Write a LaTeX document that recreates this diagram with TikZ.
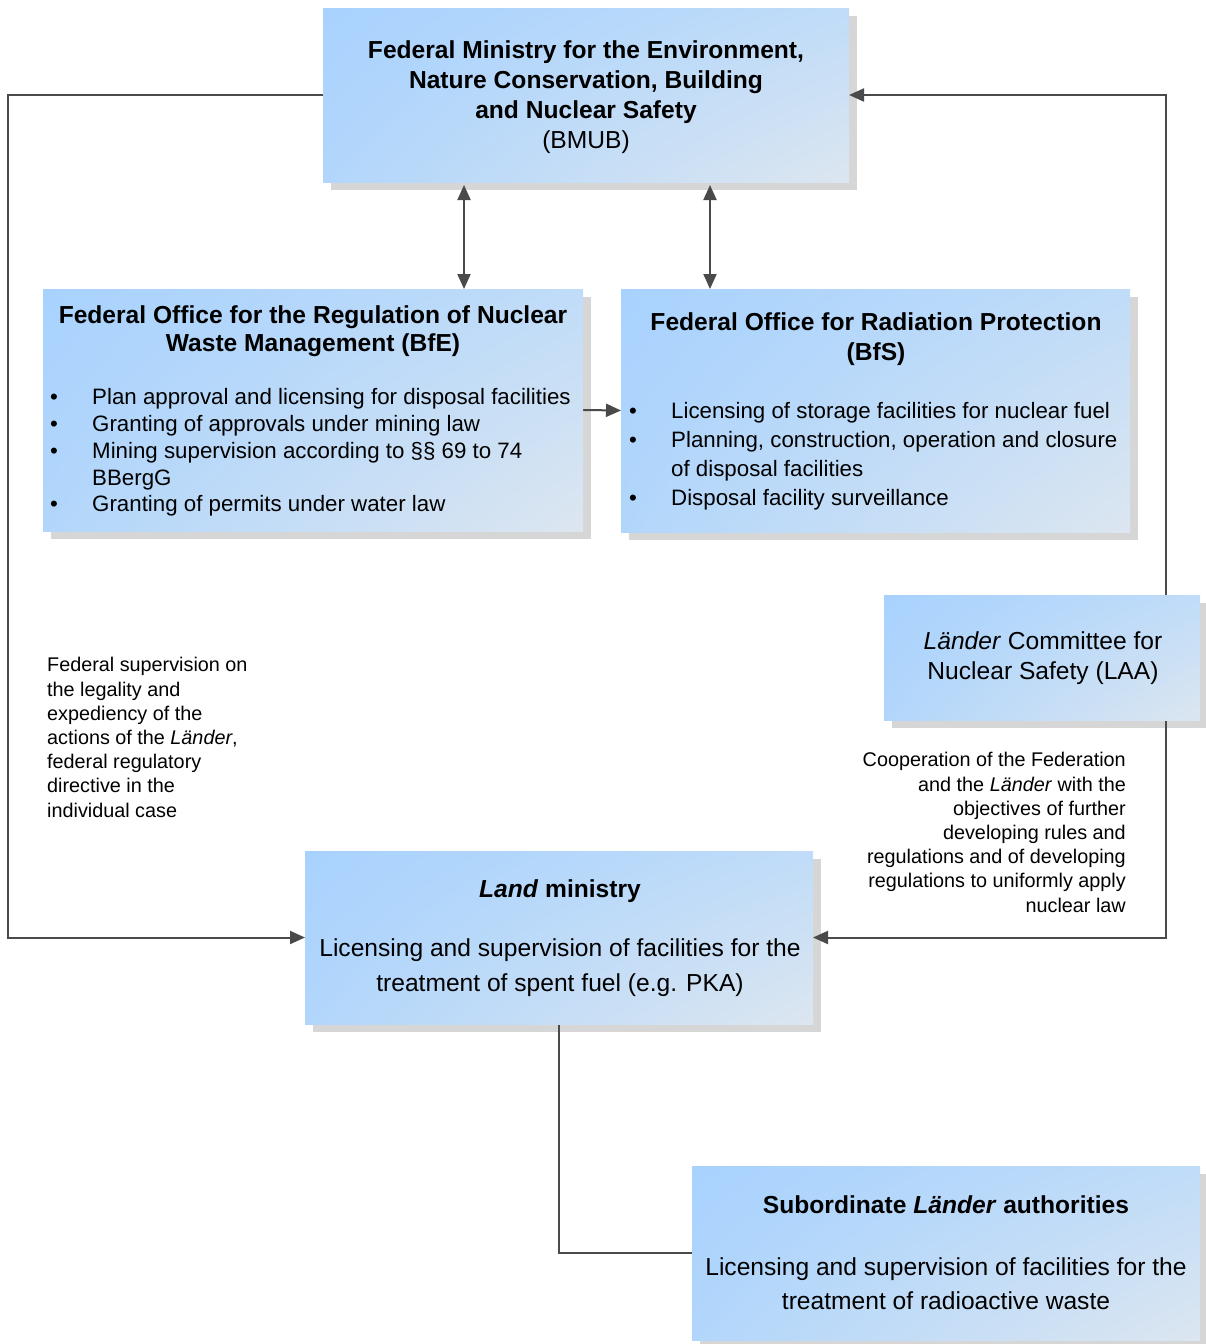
\documentclass[tikz,border=0pt]{standalone}
\usepackage{fontspec}
\setmainfont{Liberation Sans}
\usetikzlibrary{arrows.meta,shadings}
\pgfdeclarelayer{shadowlayer}
\pgfdeclarelayer{linelayer}
\pgfsetlayers{shadowlayer,linelayer,main}
\definecolor{gUL}{HTML}{A8D2FE}
\definecolor{gUR}{HTML}{C0DCF8}
\definecolor{gLL}{HTML}{B2D6FB}
\definecolor{gLR}{HTML}{DCE6F0}
\definecolor{shadowc}{HTML}{D6D6D6}
\definecolor{linec}{HTML}{4A4A4A}
\newcommand\bul{\makebox[42pt][l]{\textbullet}}
\newcommand\ind{\hspace*{42pt}}
\tikzset{
  box/.style={rectangle, inner sep=0pt, outer sep=0pt, anchor=north west,
    upper left=gUL, upper right=gUR, lower left=gLL, lower right=gLR},
  conn/.style={draw=linec, line width=2pt},
  tip/.tip={Triangle[length=15pt,width=13pt]},
  big/.style={inner sep=0pt, align=center, font=\fontsize{24.6}{30}\selectfont},
  lst/.style={inner sep=0pt, align=left, anchor=west},
  lbl/.style={inner sep=0pt, font=\fontsize{19.8}{24.2}\selectfont},
}
\begin{document}
\begin{tikzpicture}[x=1pt,y=-1pt]
\useasboundingbox (0,0) rectangle (1206,1344);
% boxes
\node[box, minimum width=526pt, minimum height=174pt] (bmub) at (323,8) {};
\node[box, minimum width=540pt, minimum height=242pt] (bfe) at (43,289) {};
\node[box, minimum width=509pt, minimum height=243pt] (bfs) at (621,289) {};
\node[box, minimum width=316pt, minimum height=125pt] (laa) at (884,595) {};
\node[box, minimum width=508pt, minimum height=173pt] (land) at (305,851) {};
\node[box, minimum width=508pt, minimum height=174pt] (sub) at (692,1166) {};
% shadows
\begin{pgfonlayer}{shadowlayer}
\foreach \n in {bmub,bfe,bfs,laa,land,sub}
  \fill[shadowc] ([shift={(8,8)}]\n.north west) rectangle ([shift={(8,8)}]\n.south east);
\end{pgfonlayer}
% texts
\node[big] (bmubT) at (586,97) {\textbf{Federal Ministry for the Environment,}\\\textbf{Nature Conservation, Building}\\\textbf{and Nuclear Safety}\\(BMUB)};
\node[big, font=\fontsize{24.6}{28}\selectfont\bfseries] (bfeT) at (313,331.5) {Federal Office for the Regulation of Nuclear\\Waste Management (BfE)};
\node[lst, font=\fontsize{22.3}{26.75}\selectfont] (bfeL) at (50,452.7) {\bul Plan approval and licensing for disposal facilities\\\bul Granting of approvals under mining law\\\bul Mining supervision according to §§ 69 to 74\\\ind BBergG\\\bul Granting of permits under water law};
\node[big, font=\fontsize{24.6}{30}\selectfont\bfseries] (bfsT) at (876,339.5) {Federal Office for Radiation Protection\\(BfS)};
\node[lst, font=\fontsize{22.3}{29}\selectfont] (bfsL) at (629,456.7) {\bul Licensing of storage facilities for nuclear fuel\\\bul Planning, construction, operation and closure\\\ind of disposal facilities\\\bul Disposal facility surveillance};
\node[big] (laaT) at (1043,658.5) {\textit{Länder} Committee for\\Nuclear Safety (LAA)};
\node[big, anchor=base, font=\fontsize{24.6}{30}\selectfont\bfseries] (landH) at (560,897) {\textit{Land} ministry};
\node[big, font=\fontsize{24.6}{35}\selectfont] (landT) at (560,968) {Licensing and supervision of facilities for the\\treatment of spent fuel (e.g. PKA)};
\node[big, anchor=base, font=\fontsize{24.6}{30}\selectfont\bfseries] (subH) at (946,1213) {Subordinate \textit{Länder} authorities};
\node[big, font=\fontsize{24.6}{34}\selectfont] (subT) at (946,1283.5) {Licensing and supervision of facilities for the\\treatment of radioactive waste};
\node[lbl, anchor=west, align=left] (leftL) at (47,737.5) {Federal supervision on\\the legality and\\expediency of the\\actions of the \textit{Länder},\\federal regulatory\\directive in the\\individual case};
\node[lbl, anchor=east, align=right] (rightL) at (1126,832.5) {Cooperation of the Federation\\and the \textit{Länder} with the\\objectives of further\\developing rules and\\regulations and of developing\\regulations to uniformly apply\\nuclear law};
% connectors
\coordinate (d1) at (464,0);
\coordinate (d2) at (710,0);
\begin{pgfonlayer}{linelayer}
\draw[conn, -tip] (bmub.west) -- ++(-315,0) |- (land.west);
\draw[conn, tip-tip] (land.east) -- (1166,937.5) |- (bmub.east);
\draw[conn, tip-tip, shorten <=3pt] (bmub.south -| d1) -- (bfe.north -| d1);
\draw[conn, tip-tip, shorten <=3pt] (bmub.south -| d2) -- (bfs.north -| d2);
\draw[conn, -tip] (bfe.east) -- (bfs.west);
\draw[conn] (land.south) |- (sub.west);
\end{pgfonlayer}
\end{tikzpicture}
\end{document}
